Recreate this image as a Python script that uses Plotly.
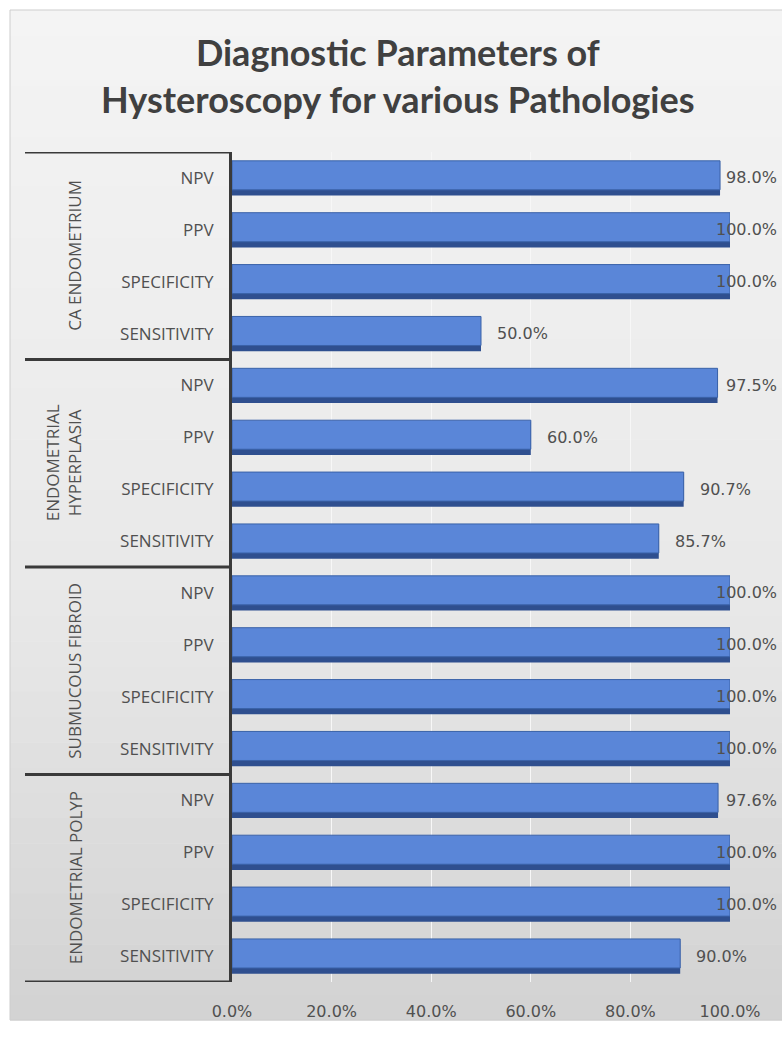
import plotly.graph_objects as go

groups = ["CA ENDOMETRIUM", "ENDOMETRIAL<br>HYPERPLASIA", "SUBMUCOUS FIBROID", "ENDOMETRIAL POLYP"]
params = ["NPV", "PPV", "SPECIFICITY", "SENSITIVITY"]
ca_endometrium = [98.0, 100.0, 100.0, 50.0]
endometrial_hyperplasia = [97.5, 60.0, 90.7, 85.7]
submucous_fibroid = [100.0, 100.0, 100.0, 100.0]
endometrial_polyp = [97.6, 100.0, 100.0, 90.0]
x_ticks = [0, 20, 40, 60, 80, 100]

series = [ca_endometrium, endometrial_hyperplasia, submucous_fibroid, endometrial_polyp]
values = [v for s in series for v in s]
labels = [p for _ in groups for p in params]
ypos = list(range(len(values)))

W, H = 782, 1047
ML, MR, MT, MB = 232, 52, 152, 65
pw = W - ML - MR
ph = H - MT - MB


def px_x(px):
    return (px - ML) / pw


def px_y(py):
    return (H - MB - py) / ph


fig = go.Figure()
# darker base (3D shadow)
fig.add_trace(go.Bar(
    x=values, y=ypos, orientation="h", width=0.64, offset=-0.30,
    marker=dict(color="#2f4f8f", line=dict(width=0)), hoverinfo="skip", showlegend=False))
# lighter face
fig.add_trace(go.Bar(
    x=values, y=ypos, orientation="h", width=0.56, offset=-0.33,
    marker=dict(color="#5a86d8", line=dict(color="#3a62a8", width=1)),
    showlegend=False))

shapes = []


def mix(c1, c2, t):
    a = [int(c1[i:i + 2], 16) for i in (1, 3, 5)]
    b = [int(c2[i:i + 2], 16) for i in (1, 3, 5)]
    return "#" + "".join(f"{round(a[k] + (b[k] - a[k]) * t):02x}" for k in range(3))


# chart-area background (vertical gradient in bands)
top, bottom = 10, 1020
nb = 40
for i in range(nb):
    y0 = top + (bottom - top) * i / nb
    y1 = top + (bottom - top) * (i + 1) / nb
    t = (i + 0.5) / nb
    if t < 0.6:
        col = mix("#f4f4f4", "#e8e8e8", t / 0.6)
    else:
        col = mix("#e8e8e8", "#d2d2d2", (t - 0.6) / 0.4)
    shapes.append(dict(type="rect", xref="paper", yref="paper",
                       x0=px_x(10), x1=px_x(W + 10), y0=px_y(y1 + 0.5), y1=px_y(y0),
                       fillcolor=col, line=dict(width=0), layer="below"))
shapes.append(dict(type="rect", xref="paper", yref="paper",
                   x0=px_x(10), x1=px_x(W + 10), y0=px_y(bottom), y1=px_y(top),
                   fillcolor="rgba(0,0,0,0)", line=dict(color="#cdcdcd", width=1), layer="below"))
# group dividers
for b in [-0.5, 3.5, 7.5, 11.5, 15.5]:
    shapes.append(dict(type="line", xref="paper", yref="y",
                       x0=px_x(25), x1=0, y0=b, y1=b,
                       line=dict(color="#3a3a3a", width=3)))

annotations = []
# title
annotations.append(dict(
    text="<b>Diagnostic Parameters of<br>Hysteroscopy for various Pathologies</b>",
    xref="paper", yref="paper", x=px_x(398), y=px_y(28), xanchor="center", yanchor="top",
    showarrow=False, align="center",
    font=dict(family="Lato", size=36, color="#404040")))

for gi, g in enumerate(groups):
    two = "<br>" in g
    annotations.append(dict(
        text=g, xref="paper", yref="y", x=px_x(63 if two else 75), y=gi * 4 + 1.5,
        textangle=-90, showarrow=False, xanchor="center", yanchor="middle",
        font=dict(family="Open Sans", size=17, color="#505050")))

# data labels
lab_font = dict(family="DejaVu Sans", size=16, color="#505050")
for v, y in zip(values, ypos):
    txt = f"{v:.1f}%"
    natural_left = ML + v / 100 * pw + 14
    est_w = 0.61 * 16 * len(txt)
    if natural_left + est_w > W - 3:
        annotations.append(dict(text=txt, xref="paper", yref="y", x=px_x(W - 3), y=y,
                                xanchor="right", yanchor="middle", showarrow=False,
                                font=lab_font))
    else:
        annotations.append(dict(text=txt, xref="x", yref="y", x=v, y=y, xshift=14,
                                xanchor="left", yanchor="middle", showarrow=False,
                                font=lab_font))

fig.update_layout(
    width=W, height=H,
    margin=dict(l=ML, r=MR, t=MT, b=MB, pad=0),
    paper_bgcolor="white", plot_bgcolor="rgba(0,0,0,0)",
    barmode="overlay",
    shapes=shapes, annotations=annotations,
    xaxis=dict(range=[0, 100], tickvals=x_ticks, ticktext=[f"{t:.1f}%" for t in x_ticks],
               showgrid=True, gridcolor="#f7f7f7", gridwidth=1, zeroline=False,
               showline=False, ticks="outside", ticklen=15, tickcolor="rgba(0,0,0,0)",
               tickfont=dict(family="DejaVu Sans", size=16, color="#505050")),
    yaxis=dict(range=[15.5, -0.5], tickvals=ypos, ticktext=labels,
               showgrid=False, zeroline=False, showline=True, linecolor="#3a3a3a", linewidth=3,
               ticks="outside", ticklen=12, tickcolor="rgba(0,0,0,0)",
               tickfont=dict(family="Open Sans", size=17, color="#505050")),
)

fig.write_html("out.html", config={"displayModeBar": False},
               post_script="document.body.style.margin='0';document.body.style.overflow='hidden';")
